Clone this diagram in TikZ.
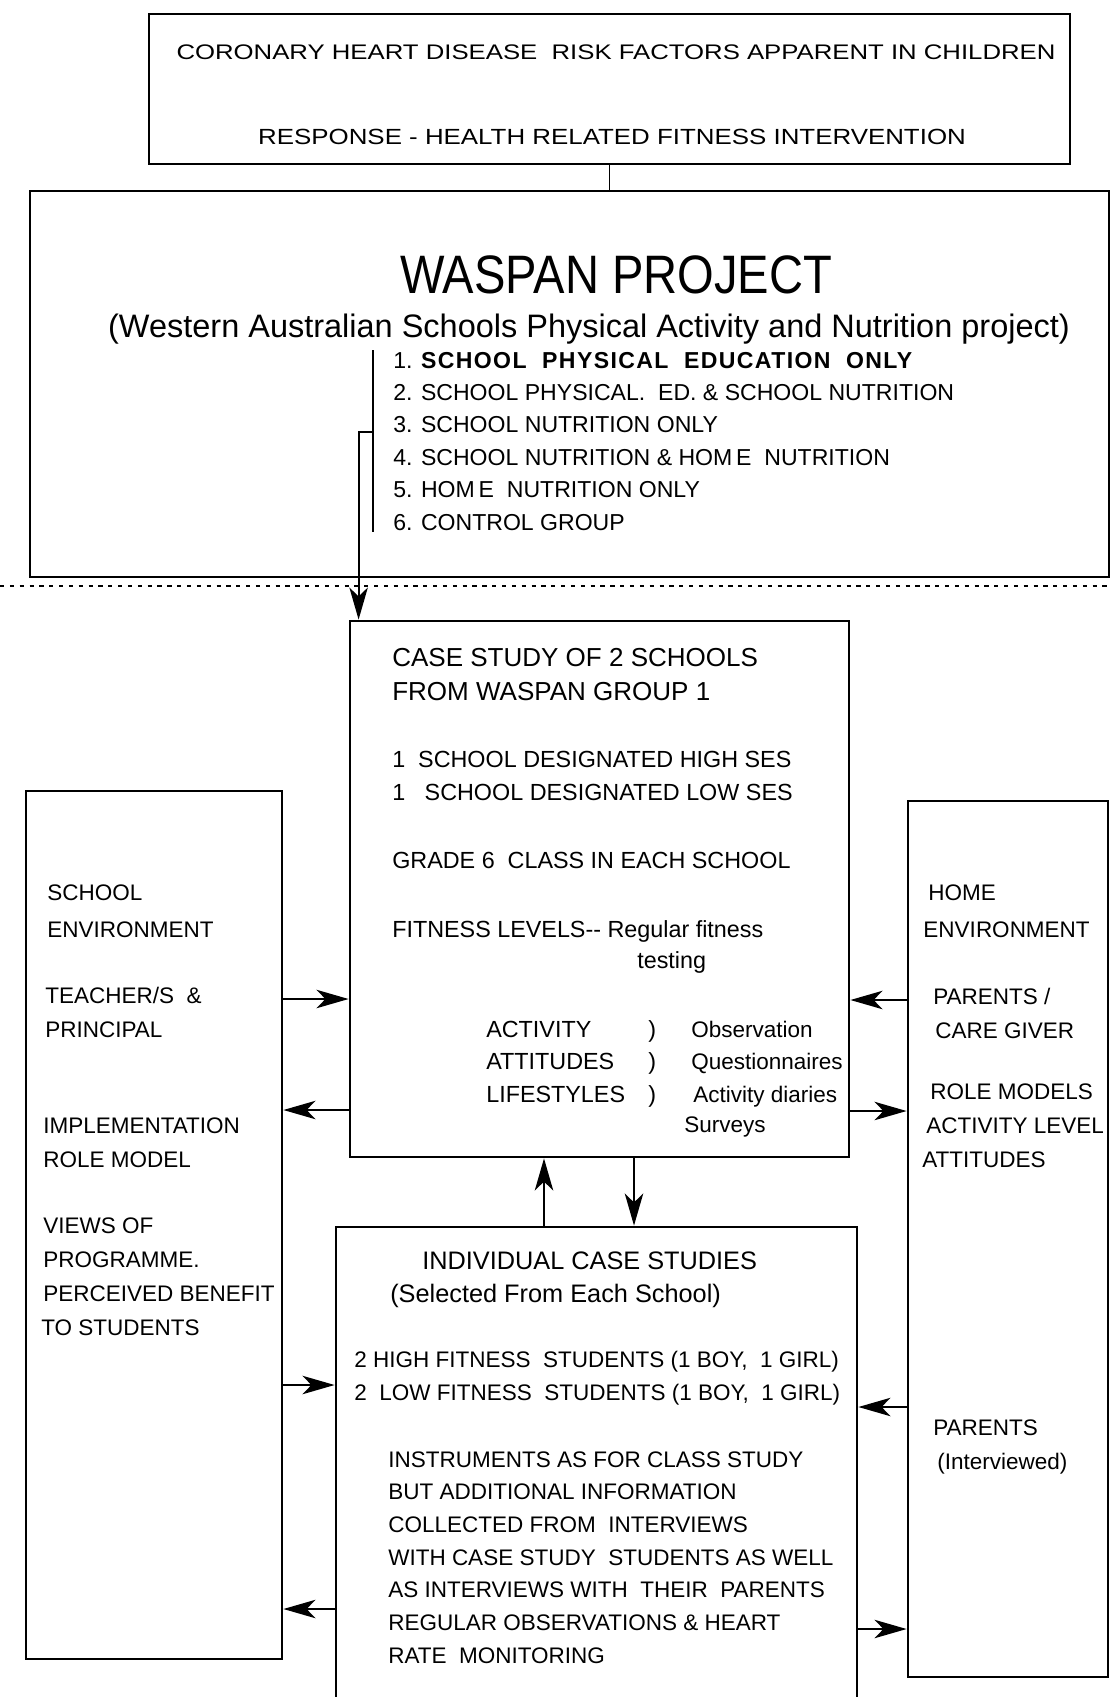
\documentclass[tikz,border=0pt]{standalone}
\usepackage{graphicx}
\usepackage{fontspec}
\setmainfont{Liberation Sans}
\usetikzlibrary{arrows.meta,fit}

\begin{document}
\begin{tikzpicture}[x=0.025cm,y=-0.025cm,>={Stealth[length=0.8cm,width=0.46cm,inset=0.22cm]},
  every node/.style={inner sep=0,anchor=base west,align=left},
  box/.style={draw,line width=2pt,inner sep=0,anchor=center},
  link/.style={->,line width=1.4pt},
  side/.style={font=\fontsize{16}{24}\selectfont},
  cshead/.style={font=\fontsize{18.5}{24}\selectfont},
  csbody/.style={font=\fontsize{16.6}{23}\selectfont},
  meth/.style={font=\fontsize{16}{23}\selectfont},
  grp/.style={font=\fontsize{16.4}{23}\selectfont},
  ichead/.style={font=\fontsize{18}{24}\selectfont},
  icbody/.style={font=\fontsize{16}{23.2}\selectfont}]
\useasboundingbox (0,0) rectangle (1111,1697);
\clip (0,0) rectangle (1111,1697);
\node[box,fit={(149,14) (1070,164)}] (top) {};\node[box,fit={(30,191) (1109,577)}] (waspan) {};
\node[box,fit={(350,621) (849,1157)}] (case) {};\node[box,fit={(26,791) (282,1659)}] (school) {};
\node[box,fit={(908,801) (1108,1677)}] (home) {};\node[box,fit={(336,1227) (857,1740)}] (indiv) {};
\node[anchor=base,font=\fontsize{15}{18}\selectfont] (risk) at (616,59) {\scalebox{1.22}[1]{CORONARY HEART DISEASE\ \ RISK FACTORS APPARENT IN CHILDREN}};
\node[anchor=base,font=\fontsize{15.6}{18}\selectfont] (resp) at (612,144) {\scalebox{1.18}[1]{RESPONSE - HEALTH RELATED FITNESS INTERVENTION}};
\draw[line width=1.4pt] (top.south) -- (top.south |- waspan.north);
\node[anchor=base,font=\fontsize{38.5}{40}\selectfont] (title) at (616,293) {\scalebox{0.87}[1]{WASPAN PROJECT}};
\node[anchor=base,font=\fontsize{23.1}{26}\selectfont] (sub) at (589,337) {(Western Australian Schools Physical Activity and Nutrition project)};
\node[grp] (groups) at (393,530) {1. {\bfseries\addfontfeature{LetterSpace=6}SCHOOL\ \ PHYSICAL\ \ EDUCATION\ \ ONLY}\\2. SCHOOL PHYSICAL.\ \ ED. \& SCHOOL NUTRITION\\3. SCHOOL NUTRITION ONLY\\4. SCHOOL NUTRITION \& HOM\,E\ \ NUTRITION\\5. HOM\,E\ \ NUTRITION ONLY\\6. CONTROL GROUP};
\coordinate (bartop) at (373,350);\coordinate (barbot) at (373,532);\coordinate (tap) at (373,432);
\draw[line width=1.4pt] (bartop) -- (barbot);
\draw[link] (tap) -| ([xshift=0.25cm]case.north west);
\coordinate (dl) at (0,586);\coordinate (dr) at (1111,586);
\draw[line width=1.5pt,dash pattern=on 3pt off 4pt] (dl) -- (dr);
\node[cshead] (cs1) at (392,700) {CASE STUDY OF 2 SCHOOLS\\FROM WASPAN GROUP 1};
\node[csbody] (cs2) at (392,800) {1\ \ SCHOOL DESIGNATED HIGH SES\\1\ \ \ SCHOOL DESIGNATED LOW SES};
\node[csbody] (cs3) at (392,868) {GRADE 6\ \ CLASS IN EACH SCHOOL};
\node[csbody] (cs4) at (392,937) {FITNESS LEVELS-{}- Regular fitness};\node[csbody] (cs5) at (637,968) {testing};
\node[csbody] (vars) at (486,1102) {ACTIVITY\\ATTITUDES\\LIFESTYLES};\node[csbody] (pars) at (648,1102) {)\\)\\)};
\node[meth] (meths) at (691,1102) {Observation\\Questionnaires\\\hspace*{0.05cm}Activity diaries};\node[meth] (surv) at (684,1132) {Surveys};
\node[side] (senv) at (47,937) {SCHOOL\\[0.08cm]ENVIRONMENT};\node[side] (staff) at (45,1037) {TEACHER/S\ \ \&\\PRINCIPAL};
\node[side] (impl) at (43,1167) {IMPLEMENTATION\\ROLE MODEL};
\node[side] (views) at (43,1335) {VIEWS OF\\PROGRAMME.\\PERCEIVED BENEFIT\\\hspace*{-0.05cm}TO STUDENTS};
\node[side] (henv) at (928,937) {HOME\\[0.08cm]\hspace*{-0.12cm}ENVIRONMENT};\node[side] (carer) at (933,1038) {PARENTS /\\\hspace*{0.05cm}CARE GIVER};
\node[side] (roles) at (930,1167) {ROLE MODELS\\\hspace*{-0.1cm}ACTIVITY LEVEL\\\hspace*{-0.2cm}ATTITUDES};
\node[side] (pint) at (933,1469) {PARENTS\\\hspace*{0.1cm}(Interviewed)};
\node[ichead] (ict) at (422,1269) {INDIVIDUAL CASE STUDIES};\node[ichead] (ics) at (390,1302) {(Selected From Each School)};
\node[icbody] (icfit) at (354,1400) {2 HIGH FITNESS\ \ STUDENTS (1 BOY,\ \ 1 GIRL)\\2\ \ LOW FITNESS\ \ STUDENTS (1 BOY,\ \ 1 GIRL)};
\node[icbody] (icins) at (388,1663) {INSTRUMENTS AS FOR CLASS STUDY\\BUT ADDITIONAL INFORMATION\\COLLECTED FROM\ \ INTERVIEWS\\WITH CASE STUDY\ \ STUDENTS AS WELL\\AS INTERVIEWS WITH\ \ THEIR\ \ PARENTS\\REGULAR OBSERVATIONS \& HEART\\RATE\ \ MONITORING};
\draw[link] (school.east |- 0,999) -- (case.west |- 0,999);\draw[link] (case.west |- 0,1110) -- (school.east |- 0,1110);
\draw[link] (home.west |- 0,1000) -- (case.east |- 0,1000);\draw[link] (case.east |- 0,1111) -- (home.west |- 0,1111);
\draw[link] (indiv.north -| 544,0) -- (case.south -| 544,0);\draw[link] (case.south -| 634,0) -- (indiv.north -| 634,0);
\draw[link] (school.east |- 0,1385) -- (indiv.west |- 0,1385);\draw[link] (indiv.west |- 0,1609) -- (school.east |- 0,1609);
\draw[link] (home.west |- 0,1407) -- (indiv.east |- 0,1407);\draw[link] (indiv.east |- 0,1629) -- (home.west |- 0,1629);
\end{tikzpicture}
\end{document}
